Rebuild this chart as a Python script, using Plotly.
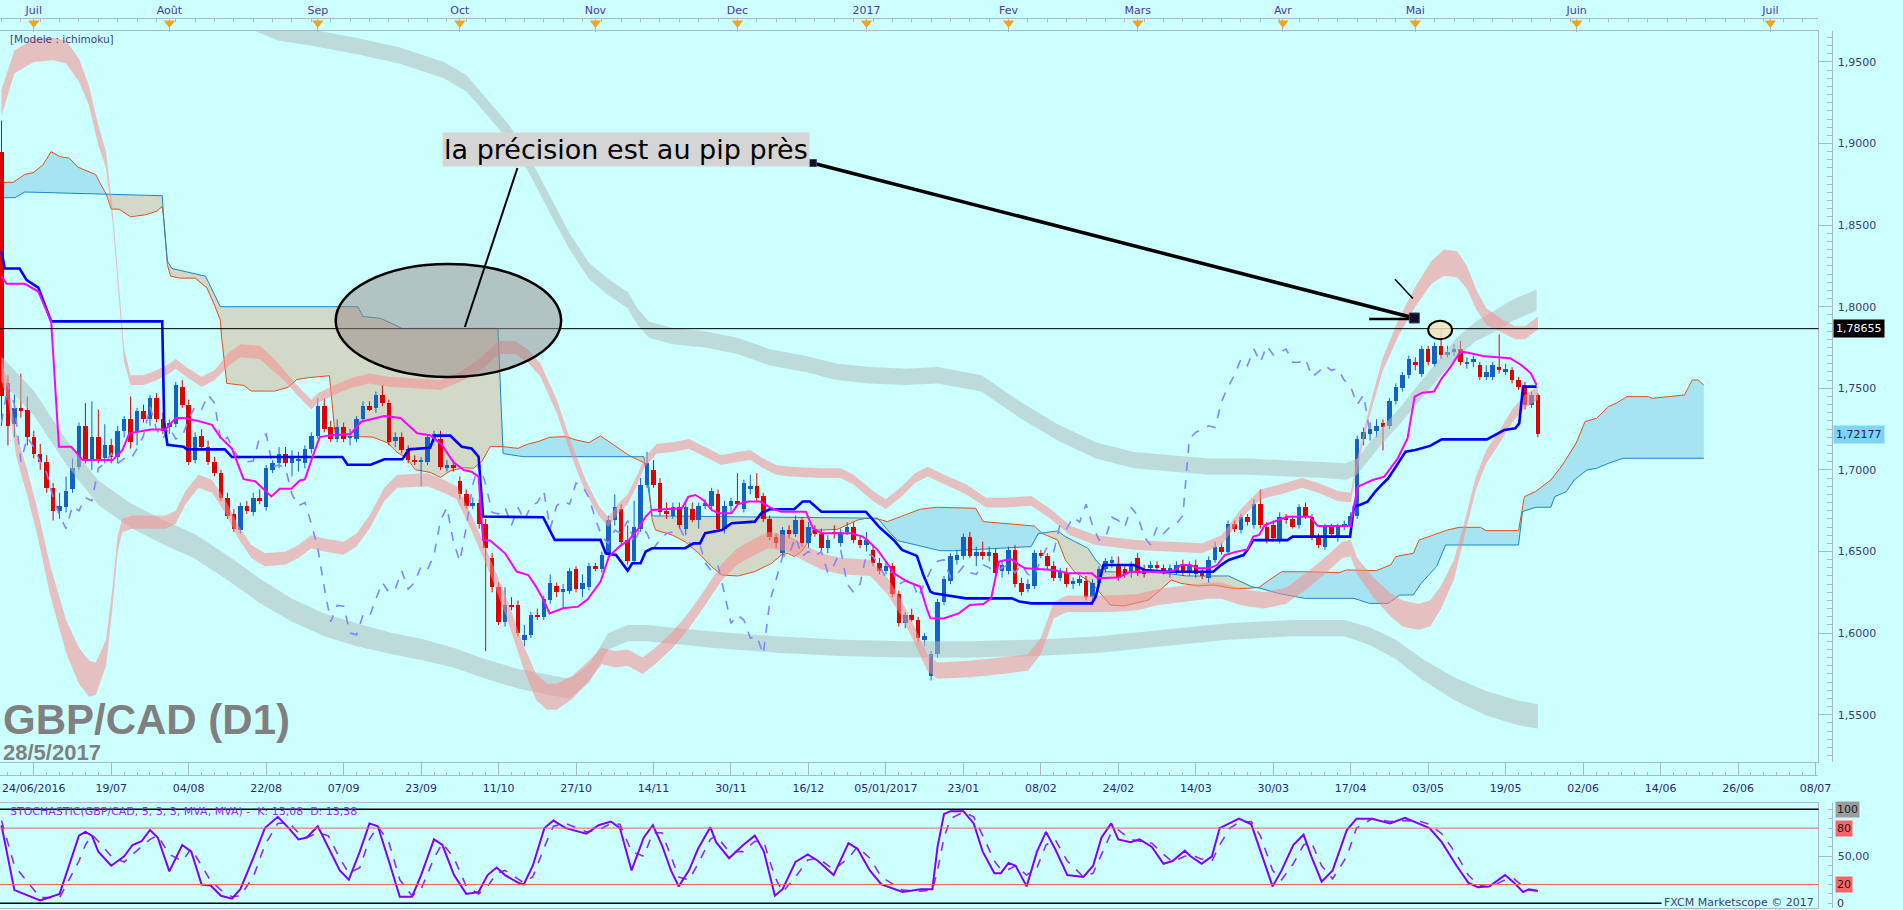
import numpy as np
import plotly.graph_objects as go

# ------------------------------------------------------------------ data
opens = [
1.8950,1.7530,1.7280,1.7380,1.7370,1.7200,1.7100,1.7050,1.6890,1.6750,
1.6770,1.6880,1.7020,1.7270,1.7060,1.7200,1.7070,1.7150,1.7080,1.7240,
1.7310,1.7230,1.7360,1.7310,1.7440,1.7310,1.7260,1.7280,1.7510,1.7400,
1.7060,1.7210,1.7140,1.7050,1.6980,1.6830,1.6730,1.6630,1.6780,1.6740,
1.6830,1.6770,1.7000,1.7040,1.7100,1.7040,1.7060,1.7040,1.7130,1.7210,
1.7390,1.7260,1.7190,1.7260,1.7200,1.7190,1.7310,1.7390,1.7380,1.7460,
1.7410,1.7180,1.7200,1.7130,1.7060,1.7050,1.7050,1.7190,1.7190,1.7010,
1.7030,1.6930,1.6850,1.6780,1.6800,1.6670,1.6460,1.6280,1.6070,1.6175,
1.6170,1.5960,1.5990,1.6110,1.6100,1.6200,1.6290,1.6250,1.6260,1.6390,
1.6270,1.6280,1.6410,1.6390,1.6480,1.6690,1.6760,1.6570,1.6440,1.6640,
1.6910,1.7000,1.6920,1.6750,1.6720,1.6770,1.6640,1.6760,1.6690,1.6780,
1.6780,1.6850,1.6640,1.6780,1.6810,1.6760,1.6880,1.6900,1.6840,1.6700,
1.6590,1.6490,1.6630,1.6610,1.6690,1.6550,1.6630,1.6610,1.6520,1.6620,
1.6550,1.6620,1.6650,1.6570,1.6540,1.6510,1.6430,1.6380,1.6410,1.6240,
1.6060,1.6110,1.6080,1.5960,1.5740,1.5870,1.6190,1.6320,1.6450,1.6470,
1.6590,1.6470,1.6500,1.6470,1.6490,1.6380,1.6380,1.6510,1.6310,1.6270,
1.6290,1.6490,1.6470,1.6410,1.6340,1.6370,1.6300,1.6310,1.6320,1.6220,
1.6310,1.6390,1.6430,1.6420,1.6390,1.6370,1.6460,1.6390,1.6400,1.6420,
1.6400,1.6380,1.6380,1.6420,1.6370,1.6420,1.6380,1.6340,1.6450,1.6530,
1.6500,1.6670,1.6630,1.6710,1.6660,1.6790,1.6650,1.6660,1.6570,1.6710,
1.6700,1.6660,1.6770,1.6710,1.6590,1.6530,1.6650,1.6590,1.6650,1.6660,
1.6720,1.7190,1.7220,1.7240,1.7290,1.7270,1.7420,1.7500,1.7580,1.7660,
1.7590,1.7740,1.7650,1.7760,1.7710,1.7720,1.7740,1.7650,1.7660,1.7640,
1.7570,1.7570,1.7630,1.7600,1.7610,1.7550,1.7510,1.7400,1.7460]
highs = [
1.9140,1.7580,1.7460,1.7590,1.7450,1.7240,1.7160,1.7090,1.6920,1.6860,
1.6960,1.7070,1.7290,1.7410,1.7420,1.7370,1.7280,1.7190,1.7270,1.7330,
1.7450,1.7380,1.7400,1.7460,1.7470,1.7350,1.7310,1.7540,1.7550,1.7430,
1.7230,1.7250,1.7180,1.7080,1.7000,1.6860,1.6760,1.6800,1.6810,1.6860,
1.6880,1.7030,1.7060,1.7140,1.7140,1.7120,1.7110,1.7150,1.7230,1.7440,
1.7440,1.7300,1.7310,1.7290,1.7250,1.7330,1.7420,1.7420,1.7480,1.7520,
1.7430,1.7230,1.7230,1.7150,1.7090,1.7080,1.7220,1.7240,1.7240,1.7060,
1.7060,1.6960,1.6880,1.6830,1.6820,1.6700,1.6490,1.6310,1.6280,1.6220,
1.6200,1.6050,1.6130,1.6150,1.6230,1.6360,1.6310,1.6300,1.6400,1.6410,
1.6360,1.6430,1.6430,1.6500,1.6720,1.6850,1.6790,1.6660,1.6810,1.6950,
1.7110,1.7060,1.6950,1.6800,1.6800,1.6800,1.6810,1.6800,1.6800,1.6820,
1.6890,1.6880,1.6810,1.6830,1.6980,1.6940,1.6970,1.6980,1.6860,1.6720,
1.6610,1.6650,1.6660,1.6720,1.6710,1.6680,1.6660,1.6640,1.6600,1.6660,
1.6640,1.6680,1.6680,1.6590,1.6620,1.6540,1.6460,1.6440,1.6430,1.6260,
1.6130,1.6150,1.6100,1.6000,1.5890,1.6210,1.6350,1.6490,1.6510,1.6610,
1.6620,1.6530,1.6560,1.6530,1.6520,1.6440,1.6530,1.6540,1.6340,1.6330,
1.6510,1.6510,1.6490,1.6440,1.6400,1.6400,1.6340,1.6350,1.6350,1.6330,
1.6410,1.6460,1.6470,1.6470,1.6420,1.6440,1.6490,1.6420,1.6440,1.6440,
1.6420,1.6420,1.6440,1.6450,1.6440,1.6450,1.6400,1.6470,1.6560,1.6550,
1.6690,1.6690,1.6730,1.6730,1.6820,1.6880,1.6680,1.6690,1.6740,1.6730,
1.6720,1.6790,1.6800,1.6730,1.6610,1.6670,1.6670,1.6670,1.6690,1.6740,
1.7210,1.7260,1.7290,1.7310,1.7310,1.7440,1.7530,1.7600,1.7700,1.7690,
1.7760,1.7760,1.7780,1.7866,1.7760,1.7770,1.7790,1.7690,1.7700,1.7660,
1.7640,1.7660,1.7830,1.7650,1.7630,1.7570,1.7540,1.7480,1.7470]
lows = [
1.7270,1.7150,1.7200,1.7320,1.7150,1.7070,1.7000,1.6860,1.6690,1.6700,
1.6740,1.6860,1.7000,1.7040,1.7000,1.7040,1.7040,1.7040,1.7040,1.7200,
1.7130,1.7150,1.7290,1.7270,1.7290,1.7220,1.7220,1.7260,1.7380,1.7030,
1.7040,1.7120,1.7030,1.6960,1.6810,1.6700,1.6620,1.6610,1.6730,1.6720,
1.6790,1.6750,1.6980,1.7010,1.7020,1.6960,1.6990,1.7010,1.7100,1.7190,
1.7230,1.7170,1.7170,1.7170,1.7150,1.7170,1.7290,1.7360,1.7350,1.7390,
1.7150,1.7140,1.7100,1.7040,1.7030,1.6900,1.7030,1.7170,1.7000,1.6990,
1.6990,1.6820,1.6760,1.6760,1.6640,1.5890,1.6250,1.6050,1.6040,1.6140,
1.5980,1.5920,1.5970,1.6080,1.6080,1.6180,1.6220,1.6150,1.6240,1.6250,
1.6220,1.6260,1.6380,1.6370,1.6450,1.6660,1.6540,1.6420,1.6420,1.6620,
1.6890,1.6890,1.6720,1.6700,1.6700,1.6640,1.6600,1.6680,1.6640,1.6760,
1.6760,1.6620,1.6610,1.6740,1.6780,1.6740,1.6850,1.6810,1.6680,1.6570,
1.6520,1.6460,1.6580,1.6590,1.6530,1.6520,1.6590,1.6500,1.6490,1.6580,
1.6530,1.6600,1.6550,1.6520,1.6500,1.6410,1.6360,1.6360,1.6220,1.6040,
1.6030,1.6070,1.5950,1.5920,1.5710,1.5850,1.6170,1.6300,1.6420,1.6450,
1.6460,1.6410,1.6450,1.6440,1.6350,1.6340,1.6360,1.6280,1.6230,1.6250,
1.6270,1.6460,1.6390,1.6320,1.6320,1.6280,1.6270,1.6290,1.6200,1.6200,
1.6290,1.6370,1.6400,1.6320,1.6340,1.6340,1.6350,1.6340,1.6380,1.6390,
1.6360,1.6340,1.6360,1.6350,1.6350,1.6340,1.6330,1.6310,1.6430,1.6480,
1.6480,1.6620,1.6610,1.6660,1.6640,1.6640,1.6550,1.6560,1.6550,1.6670,
1.6640,1.6640,1.6700,1.6570,1.6520,1.6510,1.6590,1.6560,1.6630,1.6640,
1.6700,1.7150,1.7180,1.7200,1.7120,1.7250,1.7400,1.7480,1.7560,1.7610,
1.7570,1.7640,1.7630,1.7680,1.7690,1.7700,1.7640,1.7620,1.7630,1.7550,
1.7550,1.7550,1.7590,1.7580,1.7530,1.7490,1.7370,1.7380,1.7200]
closes = [
1.7450,1.7270,1.7380,1.7360,1.7200,1.7100,1.7050,1.6890,1.6750,1.6780,
1.6870,1.7010,1.7270,1.7060,1.7200,1.7060,1.7150,1.7080,1.7240,1.7310,
1.7170,1.7360,1.7310,1.7440,1.7310,1.7240,1.7290,1.7520,1.7400,1.7050,
1.7200,1.7140,1.7050,1.6980,1.6830,1.6720,1.6640,1.6780,1.6750,1.6830,
1.6810,1.7010,1.7040,1.7100,1.7040,1.7070,1.7065,1.7130,1.7210,1.7390,
1.7250,1.7190,1.7260,1.7190,1.7205,1.7310,1.7390,1.7370,1.7460,1.7410,
1.7170,1.7200,1.7120,1.7060,1.7050,1.7055,1.7200,1.7220,1.7020,1.7030,
1.7010,1.6850,1.6780,1.6800,1.6670,1.6520,1.6280,1.6070,1.6170,1.6165,
1.6000,1.5990,1.6110,1.6100,1.6210,1.6310,1.6250,1.6270,1.6380,1.6270,
1.6310,1.6410,1.6390,1.6480,1.6690,1.6770,1.6560,1.6440,1.6650,1.6910,
1.7040,1.6910,1.6740,1.6730,1.6770,1.6660,1.6770,1.6690,1.6780,1.6800,
1.6870,1.6640,1.6780,1.6810,1.6790,1.6920,1.6900,1.6830,1.6700,1.6590,
1.6550,1.6630,1.6610,1.6690,1.6550,1.6650,1.6610,1.6520,1.6570,1.6610,
1.6620,1.6650,1.6570,1.6540,1.6570,1.6430,1.6380,1.6410,1.6240,1.6060,
1.6110,1.6080,1.5970,1.5980,1.5870,1.6190,1.6330,1.6470,1.6480,1.6590,
1.6470,1.6500,1.6470,1.6500,1.6370,1.6420,1.6510,1.6300,1.6250,1.6300,
1.6490,1.6470,1.6410,1.6340,1.6380,1.6300,1.6320,1.6330,1.6220,1.6310,
1.6390,1.6440,1.6450,1.6340,1.6360,1.6410,1.6370,1.6360,1.6420,1.6400,
1.6380,1.6400,1.6420,1.6370,1.6420,1.6360,1.6350,1.6450,1.6530,1.6500,
1.6670,1.6640,1.6710,1.6680,1.6790,1.6660,1.6570,1.6580,1.6710,1.6690,
1.6650,1.6770,1.6720,1.6590,1.6540,1.6650,1.6610,1.6650,1.6670,1.6720,
1.7190,1.7230,1.7250,1.7270,1.7260,1.7420,1.7510,1.7580,1.7680,1.7640,
1.7740,1.7660,1.7760,1.7705,1.7720,1.7740,1.7660,1.7660,1.7680,1.7570,
1.7600,1.7640,1.7610,1.7620,1.7550,1.7510,1.7400,1.7460,1.7218]

DATE_TICK_IDX = list(range(5, 282, 12))
DATE_TICK_TEXT = ['24/06/2016', '19/07', '04/08', '22/08', '07/09', '23/09', '11/10',
                  '27/10', '14/11', '30/11', '16/12', '05/01/2017', '23/01', '08/02',
                  '24/02', '14/03', '30/03', '17/04', '03/05', '19/05', '02/06',
                  '14/06', '26/06', '08/07']
MONTH_IDX = [5, 26, 49, 71, 92, 114, 134, 156, 176, 198.5, 219, 244, 274]
MONTH_TEXT = ['Juil', 'Août', 'Sep', 'Oct', 'Nov', 'Dec', '2017', 'Fev', 'Mars',
              'Avr', 'Mai', 'Juin', 'Juil']
PRICE_TICKS = [1.55, 1.60, 1.65, 1.70, 1.75, 1.80, 1.85, 1.90, 1.95]
LEVEL_PRICE = 1.78655
LAST_PRICE = 1.72177
CHIKOU_SHIFT = 26

TENKAN = [(0,1.8187),(0.8,1.814),(3.6,1.814),(5.7,1.8093),(7.7,1.791),(8.9,1.7142),(10.8,1.7142),
(12.6,1.706),(17.2,1.706),(18.7,1.7119),(19.8,1.7224),(23.1,1.7248),(25.4,1.7248),(27,1.7318),
(28.2,1.7318),(30.5,1.73),(32.6,1.7276),(33.9,1.7201),(35.7,1.713),(37.5,1.6943),(39.3,1.6931),
(40.8,1.6872),(41.8,1.6837),(43.1,1.6884),(44.9,1.6884),(46.2,1.6935),(47,1.6942),(48.2,1.7083),
(49.3,1.7201),(51,1.7213),(54.1,1.722),(55.7,1.7295),(59.3,1.733),(61.8,1.7318),(64.4,1.7224),
(66.4,1.7213),(68.2,1.7154),(70,1.7048),(71.6,1.6999),(72.8,1.6989),(73.9,1.6959),(74.6,1.657),
(75.7,1.6567),(78,1.6489),(79.8,1.6377),(81.6,1.6356),(82.8,1.6285),(84.1,1.6193),(84.9,1.6121),
(87,1.6152),(89.3,1.6162),(90.8,1.6207),(92.8,1.6316),(94.1,1.6469),(95.7,1.653),(97.2,1.6571),
(98.5,1.6632),(99.8,1.6714),(100.8,1.6755),(102.6,1.6759),(105.4,1.6765),(106.4,1.6836),
(107.5,1.6846),(108.7,1.6816),(110,1.6755),(111.1,1.6734),(113.1,1.6734),(114.1,1.6791),
(115.7,1.6806),(117.5,1.6806),(119.3,1.6765),(120.8,1.6744),(124.6,1.6744),(125.7,1.6642),
(127,1.6612),(131.6,1.6612),(133.4,1.6591),(134.1,1.657),(135.7,1.651),(137.2,1.6428),
(138.2,1.6367),(140.3,1.6316),(142.3,1.6285),(143.4,1.6142),(143.9,1.6091),(145.9,1.609),
(148.3,1.6121),(150,1.6172),(152.1,1.6178),(153.3,1.6213),(154.5,1.6438),(155.6,1.6448),
(156.5,1.6452),(157.7,1.6417),(158.6,1.6397),(163,1.6387),(165.4,1.6366),(168.9,1.6366),
(169.8,1.6336),(173,1.634),(174.8,1.6376),(180.7,1.6376),(181.8,1.6387),(182.7,1.6417),
(184.2,1.6417),(185.4,1.6397),(187.1,1.6397),(188.3,1.6417),(189.5,1.6478),(191.3,1.6499),
(193,1.6513),(193.9,1.6591),(194.8,1.6601),(195.7,1.6662),(199.2,1.6713),(202.7,1.6713),
(203.9,1.6656),(208.9,1.6656),(210.1,1.6897),(212.4,1.6938),(214.2,1.6959),(216.3,1.7071),
(217.8,1.7193),(218.9,1.7449),(220.1,1.7473),(221.9,1.748),(223.1,1.7561),(224.5,1.7633),
(226,1.7725),(227.2,1.7718),(229.5,1.7698),(230.7,1.7694),(233.7,1.7684),(235.4,1.7643),
(236.9,1.7592),(237.8,1.752)]

KIJUN = [(0,1.834),(0.3,1.827),(0.5,1.8234),(2.8,1.8234),(3.9,1.8163),(5.7,1.8117),(7.7,1.791),
(24.9,1.791),(25.2,1.7295),(25.7,1.7154),(28.2,1.7142),(28.7,1.7126),(34.6,1.7126),(35.7,1.7079),
(52.8,1.7079),(53.6,1.7032),(57.2,1.7032),(59.3,1.7065),(62.1,1.7065),(63.1,1.7126),(66.4,1.7135),
(67.1,1.721),(69.5,1.721),(71.3,1.7142),(72.8,1.7132),(73.9,1.7081),(74.6,1.6714),(83.9,1.671),
(85.7,1.6571),(92.8,1.6571),(93.6,1.6489),(95.2,1.6479),(97,1.6383),(97.7,1.6428),(99,1.6428),
(99.8,1.65),(100.8,1.652),(105.9,1.652),(107.2,1.655),(108.2,1.655),(109,1.6612),(111.6,1.6632),
(113.1,1.6673),(116.7,1.6683),(117.7,1.6734),(119,1.6759),(122.8,1.6759),(124.1,1.6806),
(125.2,1.6806),(127,1.6744),(133.9,1.6744),(135.9,1.6652),(138.2,1.6571),(139.5,1.651),
(141.8,1.6473),(142.8,1.6356),(143.9,1.6254),(144.4,1.6244),(149.4,1.6213),(156.5,1.6213),
(157.7,1.6193),(159.5,1.6182),(168.9,1.6182),(169.5,1.6223),(170.7,1.6417),(175.4,1.6417),
(177.1,1.6387),(180.7,1.6376),(187.7,1.6376),(188.9,1.6417),(190.1,1.6448),(192.4,1.6478),
(193,1.6509),(193.9,1.657),(199.2,1.657),(200,1.6591),(208.9,1.6591),(209.5,1.6774),
(210.4,1.6785),(211.6,1.6805),(212.8,1.6867),(214,1.6917),(214.8,1.6948),(216,1.702),
(217.5,1.7112),(219,1.7122),(221.3,1.7147),(223.1,1.7187),(230.1,1.7187),(232.8,1.7245),
(234.5,1.7255),(235.1,1.7285),(235.7,1.751),(237.8,1.751)]

SPAN_A = [(0,1.8762),(1.8,1.8762),(3.6,1.881),(4.9,1.8821),(6.4,1.8868),(7.7,1.895),(9,1.892),
(10.5,1.891),(11.8,1.8856),(13.1,1.8833),(14.6,1.881),(15.2,1.8762),(16.2,1.8692),(17,1.8598),
(18.2,1.8598),(20,1.8551),(22.3,1.8563),(24.1,1.8586),(24.9,1.8614),(25.2,1.8516),(25.7,1.8257),
(26.2,1.8187),(27.7,1.8175),(30,1.8175),(31.8,1.8117),(33.1,1.8),(33.9,1.7917),(34.1,1.7811),
(34.6,1.7647),(34.9,1.753),(37.5,1.7518),(38.7,1.7483),(42.3,1.7483),(44.4,1.7506),(45.7,1.7553),
(47.5,1.7565),(50.8,1.7577),(51.1,1.7436),(51.6,1.7248),(51.8,1.7213),(53.6,1.7206),(57.5,1.7201),
(58.7,1.7182),(59.8,1.7166),(61.3,1.7107),(62.8,1.7072),(64.1,1.7001),(66.4,1.6985),(68,1.6954),
(69.5,1.6994),(71.6,1.7013),(73.1,1.701),(74.4,1.7051),(75.7,1.7143),(77.7,1.7143),(80,1.7132),
(81.6,1.7159),(83.1,1.7173),(84.9,1.72),(87.5,1.7204),(89,1.7183),(91,1.7167),(92.8,1.7208),
(94.4,1.7163),(96.2,1.7112),(97.5,1.7081),(99.3,1.705),(100,1.702),(100.8,1.6693),(101.3,1.6632),
(103.9,1.6601),(105.9,1.656),(108,1.6489),(110,1.6407),(111.6,1.6356),(114.1,1.635),(116.7,1.6377),
(119.3,1.6428),(120.8,1.6479),(121.8,1.6489),(122.8,1.6469),(123.9,1.65),(125.2,1.6571),
(125.7,1.6632),(127,1.6632),(129.5,1.6636),(132.6,1.6693),(134.1,1.6704),(135.9,1.6698),
(137.2,1.6683),(139.3,1.6714),(142.3,1.6759),(144.9,1.6771),(150.9,1.6765),(152.1,1.6683),
(160,1.6656),(161.2,1.6611),(163.6,1.657),(164.8,1.6448),(166.2,1.6376),(168.9,1.6305),
(170.7,1.6223),(171.8,1.6172),(173.9,1.6166),(177.7,1.6203),(179.5,1.6264),(181.2,1.6325),
(182.7,1.6305),(185.4,1.6289),(187.7,1.6295),(190.7,1.6274),(193,1.6274),(194.8,1.628),
(196,1.6315),(198.3,1.6376),(202.4,1.6376),(207.2,1.637),(208.3,1.6387),(213,1.6383),
(215.2,1.6418),(216,1.6469),(218.7,1.6489),(219.6,1.6571),(221.1,1.6591),(224,1.6632),
(225.8,1.6648),(229.1,1.6648),(230,1.6628),(235,1.6628),(235.9,1.6836),(237.6,1.6867),
(240,1.6938),(241.8,1.703),(243.9,1.7163),(245.3,1.7296),(247.1,1.7316),(248.9,1.7388),
(250.1,1.7408),(251.8,1.7449),(255.1,1.7449),(255.7,1.7439),(258.3,1.7449),(260.7,1.7459),
(261.9,1.7551),(262.8,1.7551),(263.7,1.752)]

SPAN_B = [(0,1.8668),(2.1,1.8668),(3.6,1.8703),(24.9,1.868),(25.2,1.85),(25.7,1.828),(26.4,1.8234),
(31.6,1.8187),(33.9,1.8),(55.2,1.8),(56,1.794),(58.7,1.7929),(61.3,1.7882),(62,1.7867),
(76.9,1.7867),(77.7,1.71),(80.8,1.7081),(99.5,1.7081),(100.8,1.6718),(135.7,1.6704),
(137.7,1.6612),(138.8,1.6567),(145.4,1.6505),(147.5,1.6505),(159.5,1.653),(160.6,1.661),
(163.6,1.6626),(164.8,1.6591),(168.3,1.652),(169.5,1.6448),(171.2,1.6376),(178.9,1.637),
(181.2,1.6362),(183.6,1.635),(190.1,1.635),(193.6,1.6285),(195.1,1.6274),(197.7,1.6244),
(201.9,1.6213),(209.5,1.6213),(211.9,1.6182),(214.8,1.6182),(216.6,1.6233),(218.7,1.6234),
(219.9,1.6305),(222.3,1.6408),(223.7,1.654),(235,1.654),(235.6,1.6744),(237.6,1.6771),
(240,1.6771),(240.6,1.6836),(242.4,1.6867),(243.6,1.6938),(245.6,1.7),(247.1,1.701),
(248.9,1.704),(251.2,1.7071),(263.7,1.7071)]

# bands: (index, centre, half thickness)
PINK_UP = [(0,1.925,0.008),(2,1.950,0.007),(5,1.957,0.007),(8,1.958,0.007),(10,1.956,0.007),
(12,1.945,0.007),(13.5,1.930,0.006),(15,1.905,0.006),(16.2,1.890,0.005),(17.2,1.856,0.004),
(18.2,1.809,0.004),(19,1.770,0.004),(20,1.755,0.003),(22,1.755,0.003),(24,1.758,0.003),
(26,1.762,0.003),(27,1.765,0.003),(29,1.759,0.003),(31,1.754,0.003),(33,1.758,0.003),
(35,1.767,0.004),(37,1.773,0.004),(40,1.772,0.004),(42,1.765,0.004),(44,1.757,0.003),
(46,1.748,0.003),(48,1.740,0.003),(49,1.744,0.003),(51,1.748,0.003),(54,1.753,0.003),
(57,1.756,0.003),(60,1.754,0.003),(64,1.753,0.003),(68,1.752,0.003),(71,1.757,0.003),
(74,1.764,0.004),(77,1.775,0.004),(79.5,1.775,0.004),(81.5,1.770,0.004),(83.5,1.761,0.004),
(86,1.739,0.004),(88.5,1.710,0.004),(90.5,1.690,0.004),(92.5,1.675,0.003),(94,1.668,0.003),
(95.7,1.677,0.003),(97,1.682,0.003),(98.5,1.694,0.003),(99.5,1.704,0.003),(101.5,1.713,0.003),
(104,1.714,0.003),(106.5,1.716,0.003),(109,1.711,0.003),(111.5,1.706,0.003),(114,1.708,0.003),
(116,1.709,0.003),(118,1.704,0.003),(120,1.700,0.003),(122,1.699,0.003),(127,1.698,0.003),
(130,1.698,0.003),(132,1.694,0.003),(135,1.684,0.003),(137,1.679,0.003),(139.5,1.687,0.003),
(141.5,1.695,0.003),(143.5,1.699,0.003),(145.5,1.695,0.003),(149.5,1.688,0.003),
(152.5,1.680,0.003),(155.5,1.680,0.003),(159.5,1.681,0.003),(162.5,1.673,0.003),
(165.5,1.663,0.003),(169.5,1.657,0.003),(175.5,1.654,0.003),(181,1.653,0.003),(186,1.652,0.003),
(189,1.657,0.003),(192,1.673,0.003),(195,1.685,0.003),(198,1.688,0.003),(201.5,1.692,0.003),
(204,1.689,0.003),(207,1.684,0.003),(209,1.683,0.003),(210,1.704,0.003),(212,1.737,0.003),
(214,1.765,0.004),(216.5,1.788,0.005),(219,1.806,0.006),(221.5,1.821,0.007),(223.5,1.827,0.008),
(225.5,1.826,0.008),(227,1.818,0.007),(228.5,1.804,0.006),(230,1.794,0.005),(232.5,1.788,0.004),
(234.5,1.784,0.004),(236,1.784,0.004),(238,1.790,0.004)]

PINK_LO = [(0,1.760,0.006),(1,1.748,0.006),(2.3,1.715,0.007),(4,1.692,0.008),(5.5,1.669,0.008),
(7.5,1.633,0.009),(10,1.598,0.010),(12,1.580,0.011),(13.6,1.572,0.011),(14.6,1.572,0.010),
(16.2,1.588,0.008),(17.2,1.622,0.006),(18,1.655,0.005),(18.7,1.666,0.004),(20.3,1.668,0.004),
(25.4,1.668,0.004),(27,1.671,0.004),(28.5,1.683,0.004),(30.5,1.693,0.004),(32.6,1.690,0.004),
(34.6,1.678,0.004),(36.7,1.662,0.004),(38.7,1.650,0.004),(40.8,1.645,0.004),(44,1.646,0.004),
(46,1.650,0.004),(48,1.656,0.004),(50,1.654,0.004),(53,1.652,0.004),(55,1.657,0.004),
(57,1.668,0.004),(59.3,1.685,0.004),(61.3,1.693,0.004),(66,1.694,0.004),(68.5,1.690,0.004),
(70.5,1.686,0.004),(73,1.666,0.005),(75.7,1.641,0.005),(78.2,1.616,0.006),(80.8,1.586,0.007),
(82.8,1.567,0.008),(84.5,1.561,0.008),(86,1.561,0.008),(88.5,1.567,0.007),(91,1.577,0.006),
(93,1.586,0.005),(95,1.584,0.005),(97,1.585,0.005),(99.3,1.580,0.005),(101.3,1.586,0.005),
(104,1.596,0.005),(106.5,1.608,0.005),(109,1.622,0.005),(111.5,1.637,0.005),(114,1.647,0.005),
(116.7,1.653,0.005),(118.8,1.657,0.005),(121.8,1.655,0.005),(124.4,1.649,0.005),(127,1.644,0.005),
(130,1.641,0.005),(134.6,1.640,0.005),(137.2,1.629,0.005),(139.3,1.616,0.005),(141.3,1.600,0.005),
(143.4,1.582,0.005),(145,1.577,0.005),(150,1.578,0.005),(155,1.580,0.005),(159,1.582,0.005),
(161,1.592,0.005),(163,1.614,0.005),(165,1.618,0.005),(172,1.618,0.005),(176,1.619,0.005),
(179,1.622,0.005),(183,1.624,0.005),(187,1.626,0.005),(189,1.626,0.005),(192,1.622,0.005),
(195.5,1.620,0.005),(199,1.623,0.005),(202.5,1.633,0.005),(205.5,1.643,0.005),(207.7,1.651,0.005),
(209,1.652,0.005),(210,1.641,0.005),(212.5,1.628,0.006),(215,1.618,0.007),(217,1.612,0.008),
(219.5,1.610,0.008),(221.3,1.612,0.008),(223,1.622,0.007),(225,1.639,0.006),(226.6,1.663,0.005),
(228.4,1.692,0.004),(230,1.708,0.004),(232,1.720,0.004),(234,1.733,0.004),(236,1.742,0.004),
(238,1.747,0.004)]

GRAY_UP = [(38,1.976,0.005),(43,1.968,0.005),(47.8,1.965,0.005),(54.7,1.960,0.005),(61.6,1.954,0.005),
(68.5,1.945,0.005),(72,1.937,0.005),(75.3,1.922,0.005),(78.7,1.906,0.005),(82,1.885,0.005),
(85,1.862,0.005),(88,1.840,0.005),(91,1.822,0.005),(94,1.812,0.005),(97,1.804,0.005),
(98.5,1.794,0.005),(100.3,1.786,0.005),(104,1.782,0.005),(109,1.780,0.005),(114,1.776,0.005),
(119,1.769,0.005),(124.5,1.765,0.005),(129.5,1.760,0.005),(134.5,1.758,0.005),(140,1.757,0.005),
(145,1.758,0.005),(151.8,1.753,0.005),(157.7,1.737,0.005),(163.6,1.723,0.005),(169.5,1.712,0.005),
(175.4,1.706,0.005),(181.2,1.704,0.005),(187,1.702,0.005),(193,1.702,0.005),(199,1.701,0.005),
(205,1.700,0.005),(208.3,1.699,0.005),(210,1.702,0.005),(213.6,1.720,0.005),(216.6,1.733,0.005),
(219.5,1.747,0.0055),(222.5,1.761,0.0055),(225.4,1.775,0.006),(228.4,1.785,0.006),
(231.3,1.791,0.0065),(234.2,1.798,0.0065),(237.8,1.804,0.0065)]

GRAY_LO = [(0,1.762,0.0075),(5,1.741,0.0075),(10,1.711,0.0075),(15,1.686,0.0075),(20,1.672,0.0075),
(25,1.662,0.0075),(30,1.653,0.0075),(35,1.640,0.0075),(40,1.626,0.0075),(45,1.614,0.007),
(50,1.605,0.007),(55,1.599,0.007),(60,1.594,0.0065),(65,1.590,0.0065),(70,1.585,0.006),
(75,1.578,0.006),(80,1.572,0.006),(85,1.568,0.006),(88,1.566,0.006),(91,1.575,0.0055),
(94,1.595,0.005),(97,1.600,0.005),(100,1.600,0.005),(110,1.596,0.005),(120,1.593,0.005),
(130,1.591,0.005),(140,1.590,0.005),(150,1.590,0.005),(160,1.591,0.005),(170,1.593,0.005),
(180,1.597,0.005),(190,1.601,0.005),(200,1.603,0.005),(208,1.603,0.005),(212,1.598,0.0055),
(216,1.590,0.006),(220,1.578,0.0065),(225,1.566,0.007),(230,1.557,0.0075),(235,1.551,0.0075),
(238,1.549,0.0075)]

# stochastic: (index, %K, %D)
STOCH = [(0,83,88),(2,14,40),(6,3,6),(9,10,6),(12,72,45),(13,76,62),(14,72,73),(15,55,66),(17,40,50),
(19,50,44),(20.3,62,52),(21.7,66,60),(23,78,68),(24.2,70,72),(26,34,52),(28,62,45),(29.4,55,58),
(31,20,40),(32.4,19,24),(34,8,14),(35.7,5,7),(37,15,8),(39,48,28),(40.8,80,62),(42.8,92,85),
(44.5,80,86),(46,68,75),(47.3,70,70),(49,82,75),(50.6,60,72),(52.4,35,48),(53.8,25,32),(55.5,55,38),
(57,85,68),(58.3,82,82),(60,45,65),(61.7,7,25),(63.6,7,8),(65,30,15),(67,68,48),(68.3,62,64),
(70.1,30,48),(72,10,18),(73.9,12,10),(75.3,30,18),(76.7,38,32),(78,30,35),(80,22,26),(80.9,20,22),
(82.3,40,28),(84.1,80,60),(85.5,88,82),(87.4,80,85),(90.6,74,76),(92.5,83,78),(94.4,87,85),
(95.8,80,84),(97.6,35,55),(99.5,70,50),(100.9,83,75),(102.3,62,75),(103.7,35,50),(104.9,18,28),
(106.5,35,25),(107.9,58,42),(109.8,81,68),(110.7,65,72),(112.7,48,55),(114.9,62,55),(116.7,72,66),
(118.1,55,65),(119.8,8,28),(121,15,12),(123,44,28),(124.9,52,46),(126.5,45,48),(128.9,30,36),
(131.2,64,48),(132.6,58,60),(134.5,35,48),(136.3,20,28),(139.6,12,14),(142.4,15,13),(144.2,15,14),
(145,60,35),(146,95,70),(147,98,90),(149,98,97),(150.6,85,92),(152,55,72),(153.8,32,45),
(154.8,32,36),(156,43,36),(157.1,40,40),(158.8,18,30),(160.4,55,38),(161.8,76,62),(163.2,58,68),
(165.1,30,45),(167.6,28,28),(169.1,40,32),(170.4,70,52),(171.9,85,75),(173,68,78),(174.9,65,68),
(176.3,68,66),(178.2,60,64),(180,42,52),(181.4,45,44),(183.3,56,50),(184.2,50,52),(185.9,42,47),
(187.5,50,45),(188.7,80,62),(190.3,85,80),(191.7,90,86),(193.6,84,87),(195,55,72),(196.9,18,35),
(198.3,35,25),(200.1,62,42),(201.7,73,62),(202.9,50,65),(204.5,23,40),(206.2,35,26),(208.4,78,50),
(209.9,90,80),(212.3,90,90),(215.1,85,87),(217.4,91,88),(219.8,84,87),(221.2,80,84),(223.1,65,74),
(225.4,40,52),(227.2,22,30),(228.7,17,20),(230.5,18,17),(232.9,30,25),(234.3,22,26),(235.7,12,18),
(236.6,15,14),(238,13.08,13.38)]
STOCH_TITLE = "STOCHASTIC(GBP/CAD, 5, 3, 3, MVA, MVA) -  K: 13,08  D: 13,38"

# ------------------------------------------------------------------ geometry / style
W, H = 1903, 910
BG = '#ccffff'
AXC = '#a9b9c9'
XD = 1831 / W
X_RANGE = [-0.2308, 281.4615]
Y_RANGE = [1.52102, 1.96893]
S_RANGE = [-5, 106.7]
UP_C, DN_C = '#1462c4', '#e00000'


def py(px):
    return 1 - px / H


def pairs(lst):
    return [p[0] for p in lst], [p[1] for p in lst]


def band_polygon(lst):
    xs = [p[0] for p in lst]
    up = [p[1] + p[2] for p in lst]
    lo = [p[1] - p[2] for p in lst]
    return xs + xs[::-1], up + lo[::-1]


fig = go.Figure()
common = dict(hoverinfo='skip', showlegend=False)

# ---- Ichimoku cloud (base subplot)
ax, ay = pairs(SPAN_A)
bx, by = pairs(SPAN_B)
grid = np.round(np.arange(0, 263.71, 0.1), 2)
A = np.interp(grid, ax, ay)
B = np.interp(grid, bx, by)
fig.add_trace(go.Scatter(x=grid, y=B, mode='lines', line=dict(width=0), xaxis='x', yaxis='y', **common))
fig.add_trace(go.Scatter(x=grid, y=np.maximum(A, B), mode='lines', line=dict(width=0), fill='tonexty',
                         fillcolor='#a7e4f1', xaxis='x', yaxis='y', **common))
fig.add_trace(go.Scatter(x=grid, y=B, mode='lines', line=dict(width=0), xaxis='x', yaxis='y', **common))
fig.add_trace(go.Scatter(x=grid, y=np.minimum(A, B), mode='lines', line=dict(width=0), fill='tonexty',
                         fillcolor='#d3d9c9', xaxis='x', yaxis='y', **common))
fig.add_trace(go.Scatter(x=ax, y=ay, mode='lines', line=dict(color='#e2501a', width=1), xaxis='x', yaxis='y', **common))
fig.add_trace(go.Scatter(x=bx, y=by, mode='lines', line=dict(color='#1a88c8', width=1), xaxis='x', yaxis='y', **common))

# ---- candles (overlay y5)
o, h, l, c = map(np.array, (opens, highs, lows, closes))
n = len(c)
idx = np.arange(n)
up = c >= o
fig.add_trace(go.Bar(x=idx, y=np.abs(c - o), base=np.minimum(o, c), width=0.7,
                     marker=dict(color=np.where(up, UP_C, DN_C), line=dict(width=0)),
                     xaxis='x', yaxis='y5', **common))
for mask, col in ((up, UP_C), (~up, DN_C)):
    wx, wy = [], []
    for i in np.where(mask)[0]:
        wx += [int(i), int(i), None]
        wy += [float(l[i]), float(h[i]), None]
    fig.add_trace(go.Scatter(x=wx, y=wy, mode='lines', line=dict(color=col, width=1),
                             xaxis='x', yaxis='y5', **common))

# ---- bands and lines (overlay y6)
for band, col in ((GRAY_LO, 'rgba(178,190,190,0.55)'), (GRAY_UP, 'rgba(178,190,190,0.55)'),
                  (PINK_LO, 'rgba(248,140,140,0.55)'), (PINK_UP, 'rgba(248,140,140,0.55)')):
    bxp, byp = band_polygon(band)
    fig.add_trace(go.Scatter(x=bxp, y=byp, mode='lines', line=dict(width=0), fill='toself',
                             fillcolor=col, xaxis='x', yaxis='y6', **common))

fig.add_trace(go.Scatter(x=idx[CHIKOU_SHIFT:] - CHIKOU_SHIFT, y=c[CHIKOU_SHIFT:], mode='lines',
                         line=dict(color='#8484ff', width=1.6, dash='dash'), xaxis='x', yaxis='y6', **common))
kx, ky = pairs(KIJUN)
fig.add_trace(go.Scatter(x=kx, y=ky, mode='lines', line=dict(color='#0000ff', width=2.6),
                         xaxis='x', yaxis='y6', **common))
tx, ty = pairs(TENKAN)
fig.add_trace(go.Scatter(x=tx, y=ty, mode='lines', line=dict(color='#ff00ff', width=2),
                         xaxis='x', yaxis='y6', **common))

# ---- month markers (top strip)
fig.add_trace(go.Scatter(x=MONTH_IDX, y=[0.62] * len(MONTH_IDX), mode='markers',
                         marker=dict(symbol='triangle-down', size=10, color='#f7a21e'),
                         cliponaxis=False, xaxis='x', yaxis='y7', **common))

# ---- dummy traces so the decorative axes are drawn
fig.add_trace(go.Scatter(x=[None], y=[None], xaxis='x2', yaxis='y', **common))
fig.add_trace(go.Scatter(x=[None], y=[None], xaxis='x3', yaxis='y', **common))
fig.add_trace(go.Scatter(x=[None], y=[None], xaxis='x', yaxis='y8', **common))
fig.add_trace(go.Scatter(x=[None], y=[None], xaxis='x4', yaxis='y9', **common))

# ---- stochastic
sx = [p[0] for p in STOCH]
sk = [p[1] for p in STOCH]
sd = [p[2] for p in STOCH]
fig.add_trace(go.Scatter(x=sx, y=sd, mode='lines', line=dict(color='#8c2cf0', width=1.6, dash='dash'),
                         xaxis='x4', yaxis='y2', **common))
fig.add_trace(go.Scatter(x=sx, y=sk, mode='lines', line=dict(color='#8000ff', width=2),
                         xaxis='x4', yaxis='y2', **common))

# ------------------------------------------------------------------ shapes
shapes = [
    dict(type='line', xref='paper', yref='y', x0=0, x1=XD, y0=LEVEL_PRICE, y1=LEVEL_PRICE,
         line=dict(color='black', width=1)),
    dict(type='circle', xref='x', yref='y', x0=51.77, x1=86.69, y0=1.75692, y1=1.82616,
         fillcolor='rgba(150,135,135,0.5)', line=dict(color='black', width=2.5)),
    dict(type='line', xref='x', yref='y', x0=71.77, y0=1.78756, x1=79.92, y1=1.88499,
         line=dict(color='black', width=2)),
    dict(type='line', xref='x', yref='y', x0=125.62, y0=1.88805, x1=218.85, y1=1.79308,
         line=dict(color='black', width=3.5)),
    dict(type='line', xref='x', yref='y', x0=215.86, y0=1.81679, x1=218.63, y1=1.80509,
         line=dict(color='black', width=1.5)),
    dict(type='line', xref='x', yref='y', x0=211.86, y0=1.79246, x1=218.34, y1=1.79246,
         line=dict(color='black', width=2.5)),
    dict(type='rect', xref='x', yref='y', x0=218.08, x1=219.62, y0=1.79002, y1=1.79614,
         fillcolor='#101028', line=dict(color='#404070', width=1)),
    dict(type='rect', xref='x', yref='y', x0=125.15, x1=126.23, y0=1.88591, y1=1.89019,
         fillcolor='#101028', line=dict(color='#404070', width=1)),
    dict(type='circle', xref='x', yref='y', x0=221.0, x1=224.7, y0=1.78002, y1=1.79142,
         fillcolor='rgba(245,228,190,0.85)', line=dict(color='black', width=2)),
    # stochastic levels
    dict(type='line', xref='paper', yref='y2', x0=0, x1=XD, y0=100, y1=100, line=dict(color='black', width=1.5)),
    dict(type='line', xref='paper', yref='y2', x0=0, x1=1673 / W, y0=0, y1=0, line=dict(color='black', width=1.5)),
    dict(type='line', xref='paper', yref='y2', x0=0, x1=XD, y0=80, y1=80, line=dict(color='#f06060', width=1)),
    dict(type='line', xref='paper', yref='y2', x0=0, x1=XD, y0=20, y1=20, line=dict(color='#f06060', width=1)),
]

# ------------------------------------------------------------------ annotations
F = 'DejaVu Sans'
ann = [
    dict(text='[Modele : ichimoku]', xref='paper', yref='paper', x=8 / W, y=py(39), xanchor='left',
         yanchor='middle', showarrow=False, font=dict(family=F, size=10.5, color='#404080')),
    dict(text='<b>GBP/CAD (D1)</b>', xref='paper', yref='paper', x=1 / W, y=py(719), xanchor='left',
         yanchor='middle', showarrow=False, font=dict(family='Liberation Sans', size=42, color='#808080')),
    dict(text='<b>28/5/2017</b>', xref='paper', yref='paper', x=1 / W, y=py(752), xanchor='left',
         yanchor='middle', showarrow=False, font=dict(family='Liberation Sans', size=22, color='#808080')),
    dict(text='la précision est au pip près', xref='paper', yref='paper', x=630 / W, y=py(150),
         xanchor='center', yanchor='middle', showarrow=False, bgcolor='#d5d5d5', borderpad=1,
         font=dict(family=F, size=27, color='black')),
    dict(text='1,78655', xref='paper', yref='y', x=1846 / W, y=LEVEL_PRICE, xanchor='left', yanchor='middle',
         showarrow=False, bgcolor='black', borderpad=2, font=dict(family=F, size=11, color='white')),
    dict(text='1,72177', xref='paper', yref='y', x=1846 / W, y=LAST_PRICE, xanchor='left', yanchor='middle',
         showarrow=False, bgcolor='#7fd3f7', borderpad=2, font=dict(family=F, size=11, color='#202040')),
    dict(text=STOCH_TITLE, xref='paper', yref='paper', x=8 / W, y=py(811), xanchor='left', yanchor='middle',
         showarrow=False, font=dict(family=F, size=11, color='#9028f0')),
    dict(text='FXCM Marketscope © 2017', xref='paper', yref='paper', x=1673 / W, y=py(902), xanchor='left',
         yanchor='middle', showarrow=False, font=dict(family=F, size=11, color='#404070')),
    dict(text='100', xref='paper', yref='y2', x=1848 / W, y=100, xanchor='left', yanchor='middle',
         showarrow=False, bgcolor='#9c9c9c', borderpad=1, font=dict(family=F, size=11, color='#202020')),
    dict(text='80', xref='paper', yref='y2', x=1848 / W, y=80, xanchor='left', yanchor='middle',
         showarrow=False, bgcolor='#ff6464', borderpad=1, font=dict(family=F, size=11, color='#202020')),
    dict(text='20', xref='paper', yref='y2', x=1848 / W, y=20, xanchor='left', yanchor='middle',
         showarrow=False, bgcolor='#ff6464', borderpad=1, font=dict(family=F, size=11, color='#202020')),
    dict(text='0', xref='paper', yref='y2', x=1848 / W, y=0, xanchor='left', yanchor='middle',
         showarrow=False, font=dict(family=F, size=11, color='#303050')),
]

axis_base = dict(showgrid=False, zeroline=False, tickcolor=AXC, linecolor=AXC)
fig.update_layout(
    width=W, height=H, margin=dict(l=0, r=0, t=0, b=0),
    paper_bgcolor=BG, plot_bgcolor=BG, showlegend=False, separators=', ',
    font=dict(family=F, size=11, color='#303070'),
    bargap=0, barmode='overlay',
    xaxis=dict(domain=[0, XD], range=X_RANGE, anchor='y', tickmode='array', tickvals=DATE_TICK_IDX,
               ticktext=DATE_TICK_TEXT, ticks='outside', ticklen=13, showline=True, mirror=True,
               tickfont=dict(family=F, size=11, color='#2a2a6a'), ticklabelstandoff=3, **axis_base),
    xaxis2=dict(overlaying='x', anchor='free', position=py(18), side='top', range=X_RANGE,
                tickmode='array', tickvals=MONTH_IDX, ticktext=MONTH_TEXT, ticks='inside', ticklen=13,
                showline=True, tickfont=dict(family=F, size=11, color='#4a3a9a'),
                minor=dict(ticks='inside', ticklen=3, tickcolor=AXC, tickmode='linear', tick0=0, dtick=3),
                **axis_base),
    xaxis3=dict(overlaying='x', anchor='free', position=py(775), side='top', range=X_RANGE,
                tickmode='linear', tick0=5, dtick=2, ticks='outside', ticklen=3, showline=True,
                showticklabels=False, **axis_base),
    xaxis4=dict(domain=[0, XD], anchor='y2', range=X_RANGE, showticklabels=False, ticks='',
                showline=True, mirror=True, **axis_base),
    yaxis=dict(domain=[py(762), py(31)], range=Y_RANGE, anchor='x', side='right', tickmode='array',
               tickvals=PRICE_TICKS, tickformat='.4f', ticks='outside', ticklen=14, showline=True,
               tickfont=dict(family=F, size=11, color='#3a3a70'), ticklabelstandoff=2, **axis_base),
    yaxis5=dict(overlaying='y', range=Y_RANGE, visible=False),
    yaxis6=dict(overlaying='y', range=Y_RANGE, visible=False),
    yaxis7=dict(domain=[py(31), py(18)], range=[0, 1], anchor='x', visible=False),
    yaxis8=dict(overlaying='y', anchor='free', position=1845 / W, side='left', range=Y_RANGE,
                tickmode='linear', tick0=1.5, dtick=0.005, ticks='outside', ticklen=5, showline=True,
                showticklabels=False, **axis_base),
    yaxis2=dict(domain=[py(908), py(803)], range=S_RANGE, anchor='x4', side='right', tickmode='array',
                tickvals=[50], ticktext=['50,00'], ticks='outside', ticklen=14, showline=True,
                tickfont=dict(family=F, size=11, color='#3a3a70'), ticklabelstandoff=2, **axis_base),
    yaxis9=dict(overlaying='y2', anchor='free', position=1845 / W, side='left', range=S_RANGE,
                tickmode='linear', tick0=0, dtick=10, ticks='outside', ticklen=4, showline=True,
                showticklabels=False, **axis_base),
    shapes=shapes, annotations=ann,
)

fig.write_html("out.html", config={'displayModeBar': False},
               post_script="document.body.style.margin='0';document.body.style.overflow='hidden';")
